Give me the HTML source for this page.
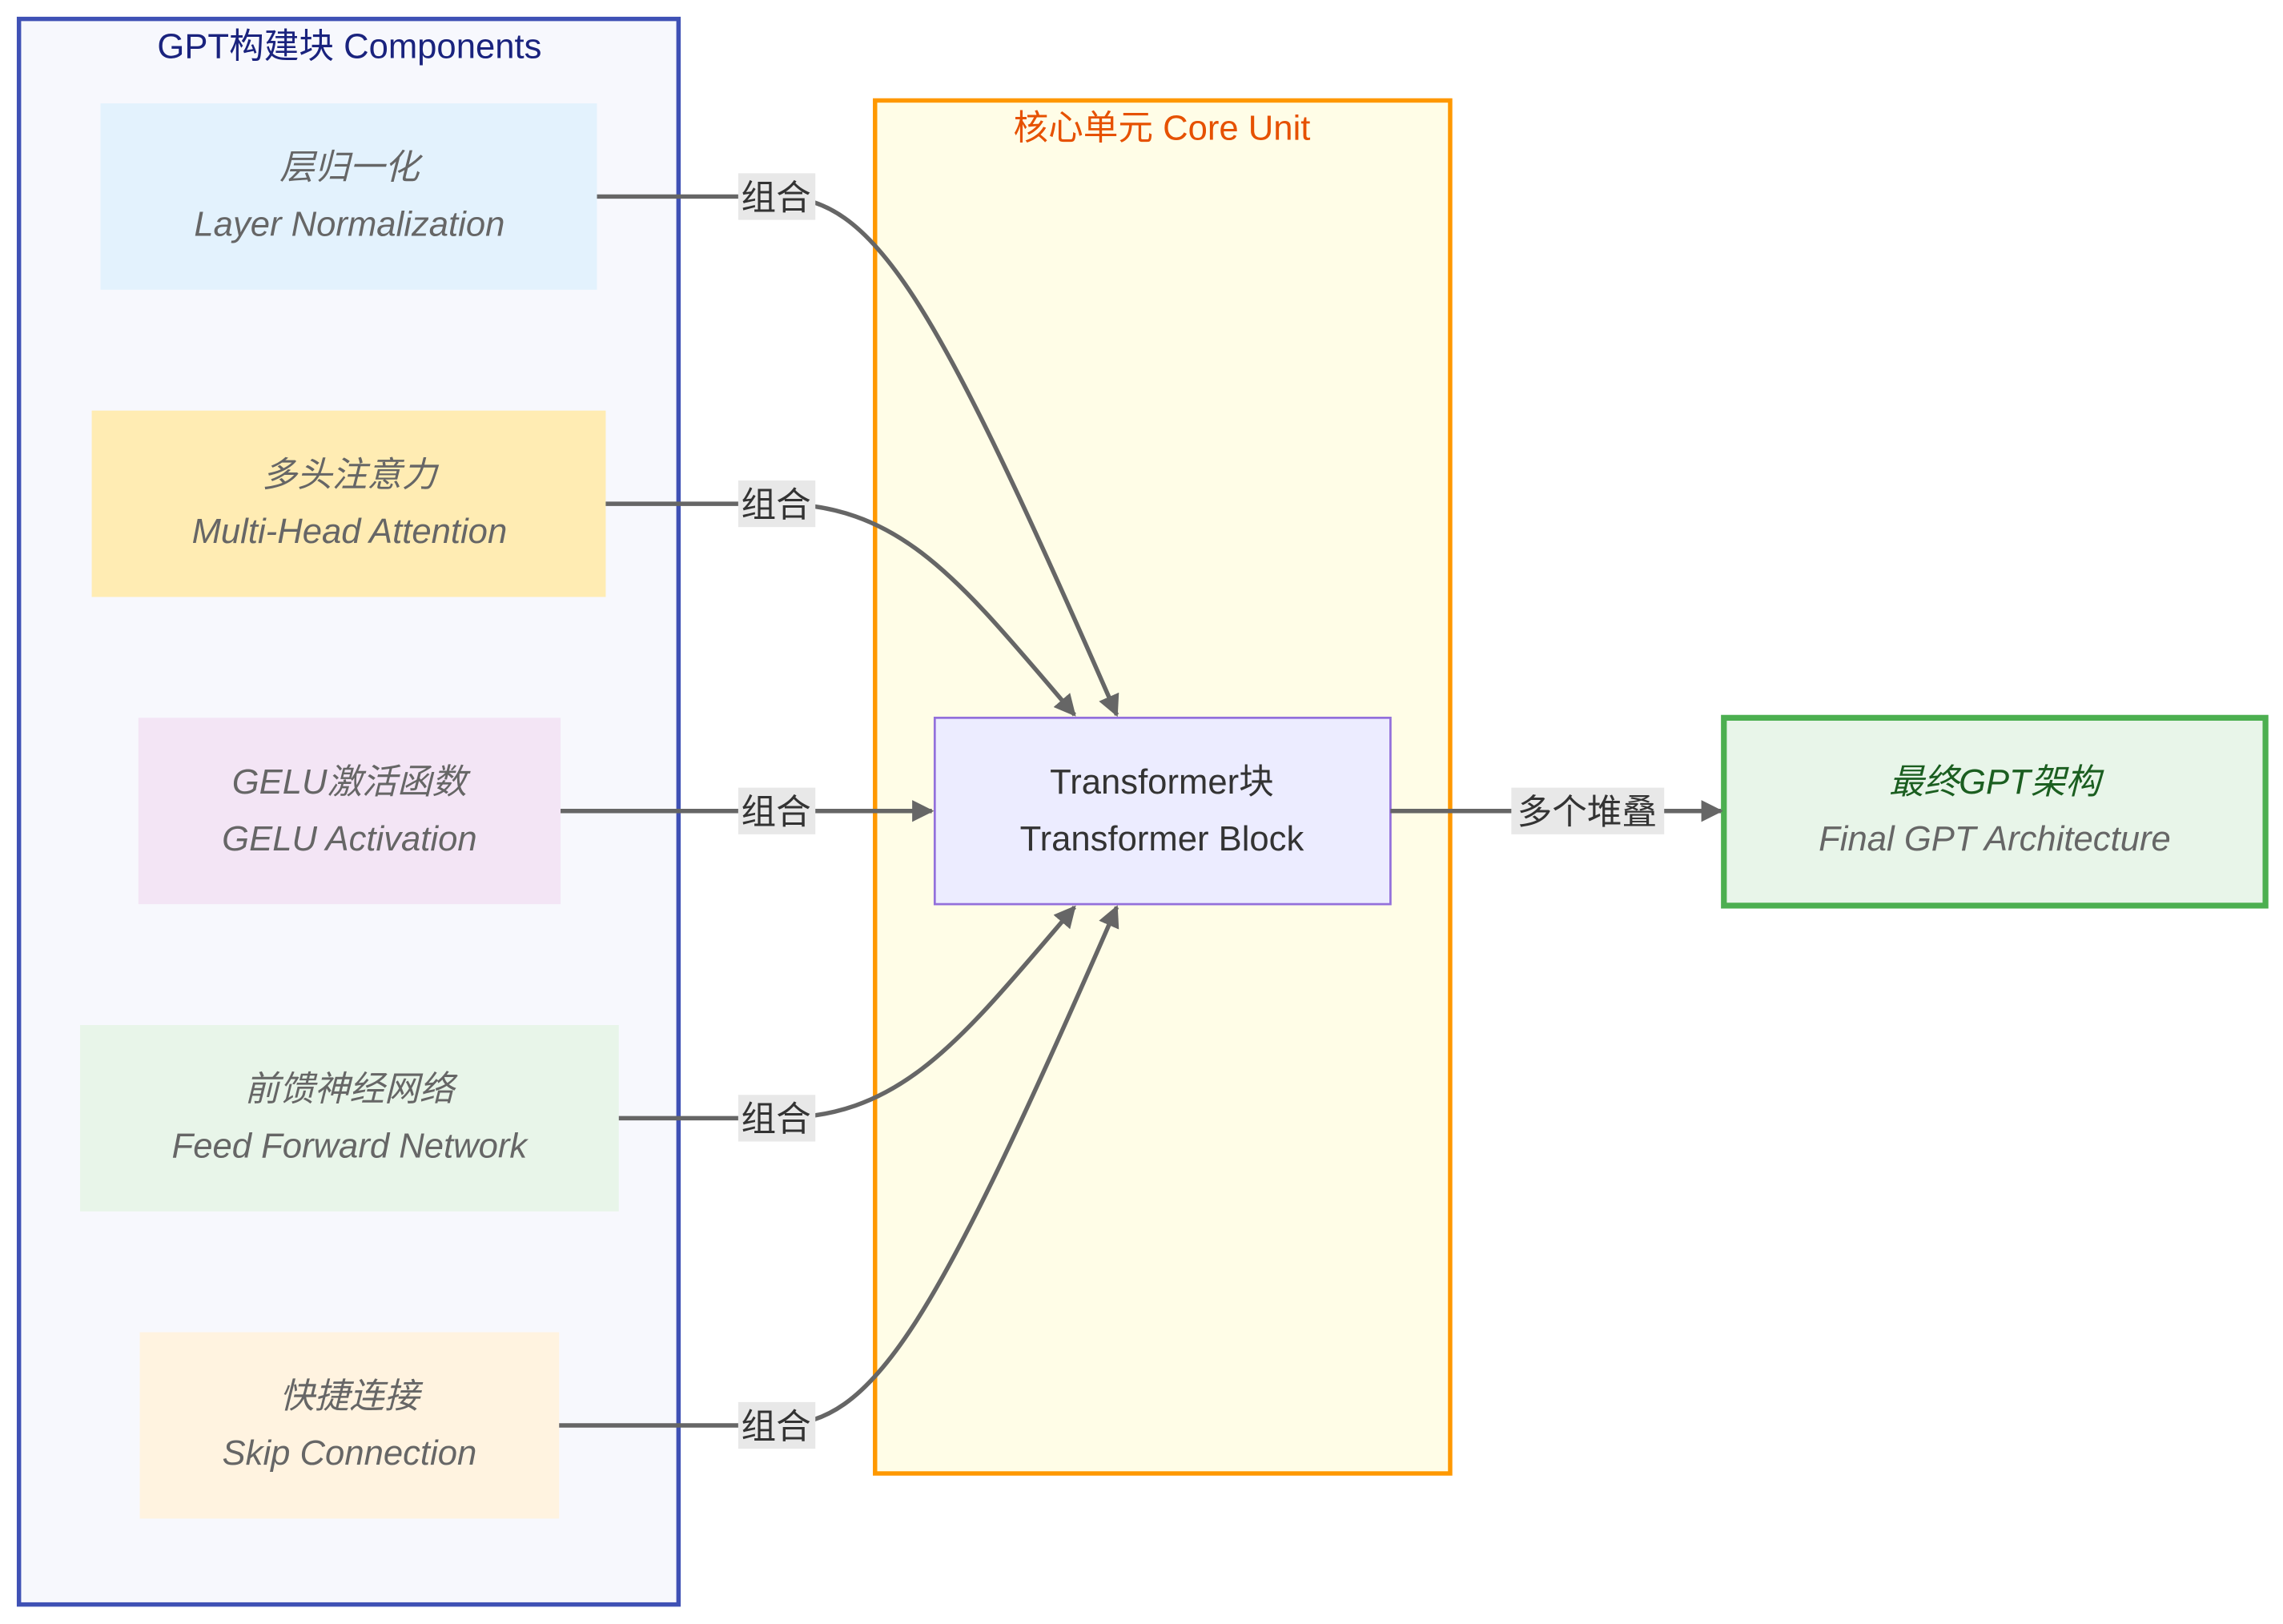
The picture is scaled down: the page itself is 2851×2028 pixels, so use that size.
<!DOCTYPE html>
<html><head><meta charset="utf-8"><style>
html,body{margin:0;padding:0;background:#fff;}
svg{display:block;}
text{font-family:"Liberation Sans","Noto Sans CJK SC",sans-serif;}
.n{font-style:italic;fill:#666;font-size:24px;text-anchor:middle;}
.l{fill:#333;font-size:24px;text-anchor:middle;}
.e{fill:none;stroke:#666;stroke-width:3;}
</style></head><body>
<svg width="2851" height="2028" viewBox="0 0 1568 1115.4" xmlns="http://www.w3.org/2000/svg">
<defs><marker id="a" viewBox="0 0 10 10" refX="9" refY="5" markerWidth="5" markerHeight="5" orient="auto"><path d="M0,0L10,5L0,10z" fill="#666"/></marker></defs>
<rect width="1568" height="1115.4" fill="#fff"/>
<rect x="13" y="13" width="453" height="1089" fill="#f7f8fd" stroke="#3f51b5" stroke-width="3"/>
<text x="240" y="40" font-size="24" fill="#1a237e" text-anchor="middle">GPT构建块 Components</text>
<rect x="601" y="69" width="395" height="943" fill="#fffde7" stroke="#ff9800" stroke-width="3"/>
<text x="798" y="96" font-size="24" fill="#e65100" text-anchor="middle">核心单元 Core Unit</text>

<rect x="69" y="71" width="341" height="128" fill="#e3f2fd"/>
<text class="n" x="240" y="123">层归一化</text><text class="n" x="240" y="162">Layer Normalization</text>
<rect x="63" y="282" width="353" height="128" fill="#ffecb3"/>
<text class="n" x="240" y="334">多头注意力</text><text class="n" x="240" y="373">Multi-Head Attention</text>
<rect x="95" y="493" width="290" height="128" fill="#f3e5f5"/>
<text class="n" x="240" y="545">GELU激活函数</text><text class="n" x="240" y="584">GELU Activation</text>
<rect x="55" y="704" width="370" height="128" fill="#e8f5e9"/>
<text class="n" x="240" y="756">前馈神经网络</text><text class="n" x="240" y="795">Feed Forward Network</text>
<rect x="96" y="915" width="288" height="128" fill="#fff3e0"/>
<text class="n" x="240" y="967">快捷连接</text><text class="n" x="240" y="1006">Skip Connection</text>

<rect x="642" y="493" width="313" height="128" fill="#ececff" stroke="#9370db" stroke-width="1.5"/>
<text class="l" x="798" y="545">Transformer块</text><text class="l" x="798" y="584">Transformer Block</text>
<rect x="1184" y="493" width="372" height="129" fill="#e8f5e9" stroke="#4caf50" stroke-width="4"/>
<text class="n" x="1370" y="545" style="fill:#1b5e20">最终GPT架构</text><text class="n" x="1370" y="584">Final GPT Architecture</text>

<path class="e" d="M410,135 L533,135 C600,135 640,200 767,491" marker-end="url(#a)"/>
<path class="e" d="M416,346 L533,346 C620,346 660,400 738,491" marker-end="url(#a)"/>
<path class="e" d="M385,557 L640,557" marker-end="url(#a)"/>
<path class="e" d="M425,768 L533,768 C620,768 660,714 738,623" marker-end="url(#a)"/>
<path class="e" d="M384,979 L533,979 C600,979 640,914 767,623" marker-end="url(#a)"/>
<path class="e" d="M955,557 L1182,557" marker-end="url(#a)"/>

<g font-size="24" fill="#333" text-anchor="middle">
<rect x="507" y="119" width="53" height="32" fill="#e8e8e8"/><text x="533" y="144">组合</text>
<rect x="507" y="330" width="53" height="32" fill="#e8e8e8"/><text x="533" y="355">组合</text>
<rect x="507" y="541" width="53" height="32" fill="#e8e8e8"/><text x="533" y="566">组合</text>
<rect x="507" y="752" width="53" height="32" fill="#e8e8e8"/><text x="533" y="777">组合</text>
<rect x="507" y="963" width="53" height="32" fill="#e8e8e8"/><text x="533" y="988">组合</text>
<rect x="1038" y="541" width="105" height="32" fill="#e8e8e8"/><text x="1090" y="566">多个堆叠</text>
</g>
</svg>
</body></html>
